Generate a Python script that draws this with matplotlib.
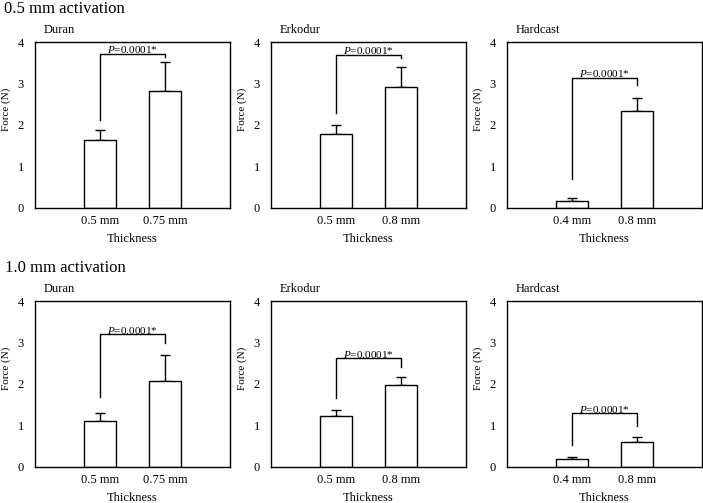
import matplotlib.pyplot as plt

plt.rcParams['font.family'] = ['Liberation Serif', 'DejaVu Serif']
plt.rcParams['mathtext.fontset'] = 'custom'
plt.rcParams['mathtext.rm'] = 'Liberation Serif'
plt.rcParams['mathtext.it'] = 'Liberation Serif:italic'

materials = ['Duran', 'Erkodur', 'Hardcast']
activations = ['0.5 mm activation', '1.0 mm activation']
thickness_labels = {'Duran': ['0.5 mm', '0.75 mm'], 'Erkodur': ['0.5 mm', '0.8 mm'], 'Hardcast': ['0.4 mm', '0.8 mm']}

# mean force (N) per thickness, one row per activation
means_05 = {'Duran': [1.64, 2.81], 'Erkodur': [1.78, 2.93], 'Hardcast': [0.16, 2.35]}
errs_05 = {'Duran': [0.24, 0.71], 'Erkodur': [0.22, 0.48], 'Hardcast': [0.07, 0.31]}
means_10 = {'Duran': [1.10, 2.08], 'Erkodur': [1.23, 1.98], 'Hardcast': [0.19, 0.60]}
errs_10 = {'Duran': [0.20, 0.63], 'Erkodur': [0.13, 0.19], 'Hardcast': [0.04, 0.11]}

# significance bracket: left tip, right tip, top
bracket_05 = {'Duran': [2.12, 3.64, 3.72], 'Erkodur': [2.28, 3.61, 3.70], 'Hardcast': [0.69, 2.97, 3.14]}
bracket_10 = {'Duran': [1.69, 3.00, 3.20], 'Erkodur': [1.67, 2.42, 2.62], 'Hardcast': [0.52, 0.98, 1.29]}
p_text = '$P$=0.0001*'

means = [means_05, means_10]
errs = [errs_05, errs_10]
brackets = [bracket_05, bracket_10]


def plot_panel(ax, material, mean, err, bracket):
    xs = [1, 2]
    ax.bar(xs, mean, width=0.5, color='white', edgecolor='black', linewidth=1.0, zorder=2)
    ax.errorbar(xs, mean, yerr=[[0, 0], err], fmt='none', ecolor='black', elinewidth=1.0, capsize=3.5, capthick=1.0, zorder=1)
    left, right, top = bracket
    ax.plot([xs[0], xs[0], xs[1], xs[1]], [left, top, top, right], color='black', linewidth=1.0)
    ax.text(1.5, top + 0.01, p_text, ha='center', va='baseline', fontsize=8)
    ax.set_xlim(0, 3)
    ax.set_ylim(0, 4)
    ax.set_xticks(xs)
    ax.set_xticklabels(thickness_labels[material])
    ax.set_yticks([0, 1, 2, 3, 4])
    ax.tick_params(length=0, labelsize=9)
    ax.tick_params(axis='y', pad=8)
    ax.tick_params(axis='x', pad=5)
    for s in ax.spines.values():
        s.set_linewidth(1.0)
    ax.set_ylabel('Force (N)', fontsize=8)
    ax.yaxis.set_label_coords(-0.125, 0.595)
    ax.set_xlabel('Thickness', fontsize=9)
    ax.xaxis.set_label_coords(0.5, -0.15)
    ax.text(0.045, 1.055, material, transform=ax.transAxes, ha='left', va='baseline', fontsize=9)


fig = plt.figure(figsize=(7.03, 5.03), dpi=100)
lefts = [0.0498, 0.3855, 0.7212]
bottoms = [0.587, 0.0722]
for row_i in range(2):
    for col_i, material in enumerate(materials):
        ax = fig.add_axes([lefts[col_i], bottoms[row_i], 0.2774, 0.329])
        plot_panel(ax, material, means[row_i][material], errs[row_i][material], brackets[row_i][material])

fig.text(0.005, 0.9748, activations[0], ha='left', va='baseline', fontsize=12)
fig.text(0.007, 0.4598, activations[1], ha='left', va='baseline', fontsize=12)

plt.savefig('out.png', dpi=100)
plt.close()
